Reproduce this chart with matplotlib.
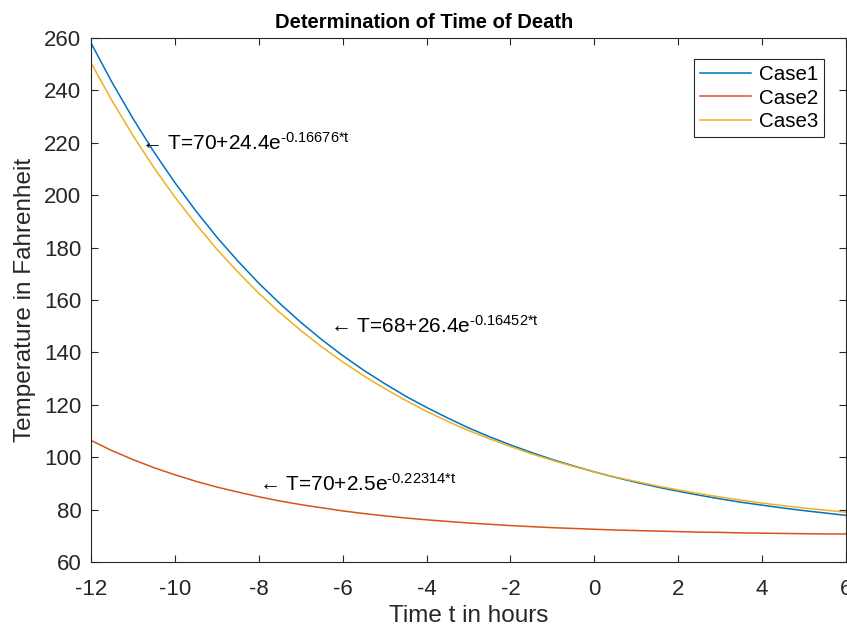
import numpy as np
import matplotlib
matplotlib.use('Agg')
import matplotlib.pyplot as plt

plt.rcParams['font.family'] = ['Liberation Sans', 'DejaVu Sans']
plt.rcParams['mathtext.fontset'] = 'custom'
plt.rcParams['mathtext.rm'] = 'Liberation Sans'
plt.rcParams['mathtext.it'] = 'Liberation Sans'
plt.rcParams['mathtext.default'] = 'regular'
plt.rcParams['axes.unicode_minus'] = False

# hours, every half hour
t = [-12, -11.5, -11, -10.5, -10, -9.5, -9, -8.5, -8, -7.5, -7, -6.5, -6, -5.5,
     -5, -4.5, -4, -3.5, -3, -2.5, -2, -1.5, -1, -0.5, 0, 0.5, 1, 1.5, 2, 2.5,
     3, 3.5, 4, 4.5, 5, 5.5, 6]
case1 = [258.1, 243.1, 229.3, 216.5, 204.8, 194.0, 184.0, 174.9, 166.4, 158.7,
         151.5, 144.9, 138.8, 133.2, 128.1, 123.3, 119.0, 115.0, 111.2, 107.8,
         104.7, 101.8, 99.1, 96.7, 94.4, 92.3, 90.4, 88.6, 87.0, 85.5,
         84.1, 82.8, 81.7, 80.6, 79.6, 78.7, 77.8]
case2 = [106.4, 102.5, 99.1, 96.0, 93.3, 90.8, 88.6, 86.7, 84.9, 83.3,
         81.9, 80.7, 79.5, 78.5, 77.6, 76.8, 76.1, 75.5, 74.9, 74.4,
         73.9, 73.5, 73.1, 72.8, 72.5, 72.2, 72.0, 71.8, 71.6, 71.4,
         71.3, 71.1, 71.0, 70.9, 70.8, 70.7, 70.7]
case3 = [250.5, 236.1, 222.8, 210.5, 199.3, 189.0, 179.4, 170.7, 162.6, 155.2,
         148.4, 142.1, 136.4, 131.1, 126.2, 121.7, 117.5, 113.7, 110.2, 107.0,
         104.1, 101.3, 98.8, 96.5, 94.4, 92.4, 90.7, 89.0, 87.5, 86.1,
         84.8, 83.6, 82.5, 81.5, 80.6, 79.8, 79.0]
labels = ['Case1', 'Case2', 'Case3']
colors = ['#0072BD', '#D95319', '#EDB120']

notes = [(-10.8, 220, 'T=70+24.4e', '-0.16676*t'),
         (-6.3, 150, 'T=68+26.4e', '-0.16452*t'),
         (-8.0, 90, 'T=70+2.5e', '-0.22314*t')]

fig = plt.figure(figsize=(8.47, 6.28), dpi=100)
ax = fig.add_axes([91 / 847, 1 - 562 / 628, 755 / 847, 524 / 628])

for y, lab, c in zip([case1, case2, case3], labels, colors):
    ax.plot(t, y, color=c, lw=1.1, label=lab)

for x, y, base, sup in notes:
    ax.text(x, y, '\u2190 ' + base + r'$^{\text{' + sup + '}}$',
            fontsize=15, va='center', ha='left', color='black')

ax.set_xlim(-12, 6)
ax.set_ylim(60, 260)
ax.set_xticks(np.arange(-12, 7, 2))
ax.set_yticks(np.arange(60, 261, 20))
ax.tick_params(direction='in', top=True, right=True, labelsize=16,
               colors='#262626', length=5, width=0.8)
ax.tick_params(axis='x', pad=12)
ax.tick_params(axis='y', pad=7)
for s in ax.spines.values():
    s.set_color('#262626')
    s.set_linewidth(0.8)

ax.set_title('Determination of Time of Death', fontsize=14.5, fontweight='bold',
             pad=7, x=(424 - 91) / 755)
ax.set_xlabel('Time t in hours', fontsize=17.5, color='#262626', labelpad=4)
ax.set_ylabel('Temperature in Fahrenheit', fontsize=17.5, color='#262626', labelpad=6)

leg = ax.legend(loc='upper right', fontsize=14.8, fancybox=False,
                edgecolor='#262626', framealpha=1, handlelength=2.5,
                handletextpad=0.35, borderpad=0.3, labelspacing=0.22,
                borderaxespad=0)
leg.get_frame().set_linewidth(0.8)
leg.set_bbox_to_anchor((824 / 847, 1 - 59 / 628), transform=fig.transFigure)

fig.savefig('out.png', dpi=100)
